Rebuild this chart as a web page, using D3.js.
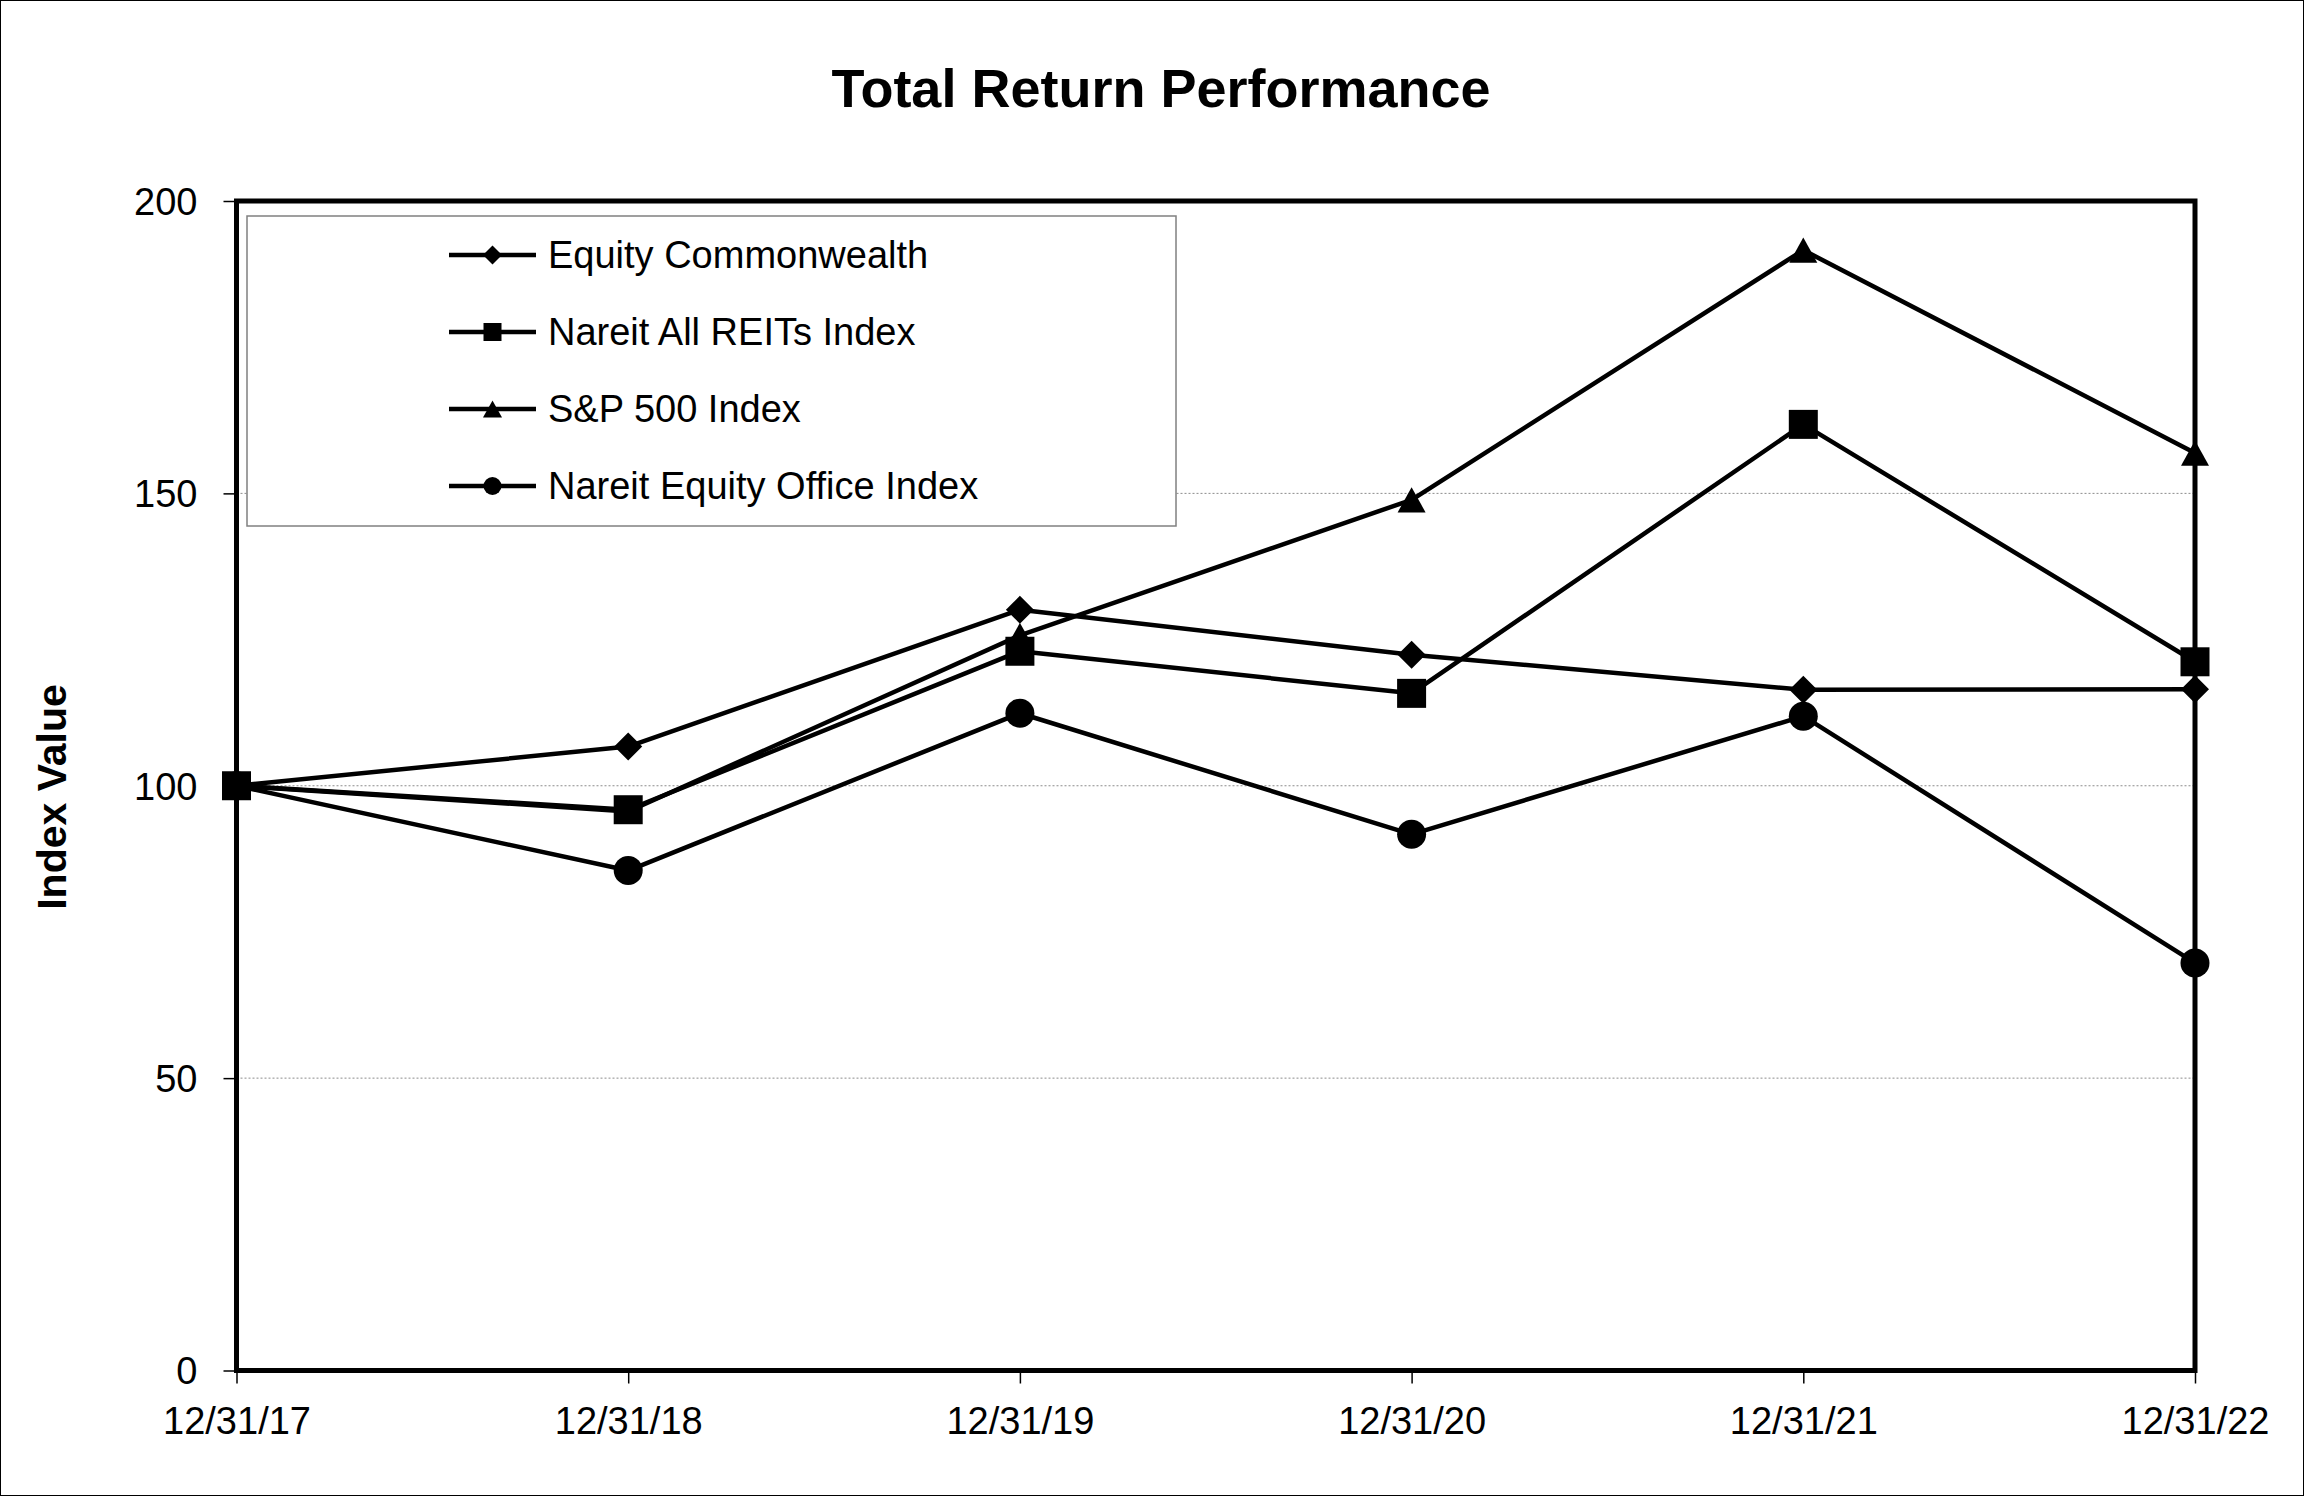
<!DOCTYPE html>
<html>
<head>
<meta charset="utf-8">
<script src="https://cdn.jsdelivr.net/npm/d3@7"></script>
<style>
  html, body { margin: 0; padding: 0; background: #fff; }
  svg { display: block; }
  text { font-family: "Liberation Sans", Arial, sans-serif; fill: #000; }
</style>
</head>
<body>
<svg id="chart" width="2304" height="1496"></svg>
<script>
// ---- data ----
const categories = ["12/31/17", "12/31/18", "12/31/19", "12/31/20", "12/31/21", "12/31/22"];
const seriesNames = ["Equity Commonwealth", "Nareit All REITs Index", "S&P 500 Index", "Nareit Equity Office Index"];
const equityCommonwealth = [100, 106.7, 130.1, 122.4, 116.4, 116.5];
const nareitAllREITs = [100, 95.9, 123.0, 115.8, 161.8, 121.2];
const sp500 = [100, 95.6, 125.7, 148.9, 191.6, 156.9];
const nareitEquityOffice = [100, 85.5, 112.4, 91.7, 111.9, 69.7];
const yTicks = [0, 50, 100, 150, 200];
const gridTicks = [50, 100, 150];

const seriesValues = [equityCommonwealth, nareitAllREITs, sp500, nareitEquityOffice];

// ---- layout ----
const W = 2304, H = 1496;
const plot = { left: 236.5, right: 2195, top: 201, bottom: 1370.5 };

const svg = d3.select("#chart");

// outer frame
svg.append("rect")
  .attr("x", 0.5).attr("y", 0.5)
  .attr("width", W - 1).attr("height", H - 1)
  .attr("fill", "#fff").attr("stroke", "#000").attr("stroke-width", 1);

const x = d3.scalePoint().domain(categories).range([plot.left, plot.right]);
const y = d3.scaleLinear().domain([0, 200]).range([plot.bottom, plot.top]);

// custom marker shapes (d3.symbol types)
const diamondType = { draw(ctx, size) { const r = Math.sqrt(size) / 2; ctx.moveTo(0, -r); ctx.lineTo(r, 0); ctx.lineTo(0, r); ctx.lineTo(-r, 0); ctx.closePath(); } };
const squareType = { draw(ctx, size) { const r = Math.sqrt(size) / 2; ctx.rect(-r, -r, 2 * r, 2 * r); } };
const triangleType = { draw(ctx, size) { const w = Math.sqrt(size); const h = w * 0.9; ctx.moveTo(0, -h / 2); ctx.lineTo(w / 2, h / 2); ctx.lineTo(-w / 2, h / 2); ctx.closePath(); } };
const circleType = { draw(ctx, size) { const r = Math.sqrt(size) / 2; ctx.moveTo(r, 0); ctx.arc(0, 0, r, 0, 2 * Math.PI); } };
const markerTypes = [diamondType, squareType, triangleType, circleType];
const markerSizes = [28 * 28, 29 * 29, 28 * 28, 29 * 29];
const legendMarkerSizes = [19 * 19, 18 * 18, 19 * 19, 18 * 18];

// gridlines
svg.append("g")
  .selectAll("line")
  .data(gridTicks)
  .join("line")
  .attr("x1", plot.left).attr("x2", plot.right)
  .attr("y1", d => y(d)).attr("y2", d => y(d))
  .attr("stroke", "#8c8c8c").attr("stroke-width", 1)
  .attr("stroke-dasharray", "2,2");

// y axis (ticks + labels)
const yAxis = d3.axisLeft(y).tickValues(yTicks).tickSize(13).tickPadding(26).tickFormat(d3.format("d"));
const gy = svg.append("g").attr("transform", `translate(${plot.left},0)`).call(yAxis);
gy.select(".domain").remove();
gy.selectAll(".tick line").attr("stroke", "#000").attr("stroke-width", 1.5);
gy.selectAll(".tick text").attr("font-size", 38).attr("dy", "0.35em").style("font-family", '"Liberation Sans", Arial, sans-serif');

// x axis
const xAxis = d3.axisBottom(x).tickSize(13).tickPadding(24);
const gx = svg.append("g").attr("transform", `translate(0,${plot.bottom})`).call(xAxis);
gx.select(".domain").remove();
gx.selectAll(".tick line").attr("stroke", "#000").attr("stroke-width", 1.5);
gx.selectAll(".tick text").attr("font-size", 38).attr("dy", "0.71em").style("font-family", '"Liberation Sans", Arial, sans-serif');

// plot border
svg.append("rect")
  .attr("x", plot.left).attr("y", plot.top)
  .attr("width", plot.right - plot.left).attr("height", plot.bottom - plot.top)
  .attr("fill", "none").attr("stroke", "#000").attr("stroke-width", 5);

// series
const line = d3.line().x((d, i) => x(categories[i])).y(d => y(d));
seriesValues.forEach((vals, si) => {
  const g = svg.append("g");
  g.append("path").datum(vals)
    .attr("d", line)
    .attr("fill", "none").attr("stroke", "#000").attr("stroke-width", 4.5)
    .attr("stroke-linejoin", "round");
  g.selectAll("path.m").data(vals).join("path").attr("class", "m")
    .attr("transform", (d, i) => `translate(${x(categories[i])},${y(d)})`)
    .attr("d", d3.symbol().type(markerTypes[si]).size(markerSizes[si]))
    .attr("fill", "#000");
});

// legend
const legend = { x: 247, y: 216, w: 929, h: 310 };
svg.append("rect")
  .attr("x", legend.x).attr("y", legend.y).attr("width", legend.w).attr("height", legend.h)
  .attr("fill", "#fff").attr("stroke", "#808080").attr("stroke-width", 1.5);
const legendY = [255, 332, 409, 486];
seriesNames.forEach((name, si) => {
  const g = svg.append("g").attr("transform", `translate(0,${legendY[si]})`);
  g.append("line").attr("x1", 449).attr("x2", 536).attr("y1", 0).attr("y2", 0)
    .attr("stroke", "#000").attr("stroke-width", 4.5);
  g.append("path").attr("transform", "translate(492.5,0)")
    .attr("d", d3.symbol().type(markerTypes[si]).size(legendMarkerSizes[si]))
    .attr("fill", "#000");
  g.append("text").attr("x", 548).attr("y", 0).attr("dy", "0.35em")
    .attr("font-size", 38).text(name);
});

// title
svg.append("text")
  .attr("x", 1161).attr("y", 107)
  .attr("text-anchor", "middle")
  .attr("font-size", 54).attr("font-weight", "bold")
  .text("Total Return Performance");

// y axis title
svg.append("text")
  .attr("transform", "translate(66,797) rotate(-90)")
  .attr("text-anchor", "middle")
  .attr("font-size", 41).attr("font-weight", "bold")
  .text("Index Value");
</script>
</body>
</html>
